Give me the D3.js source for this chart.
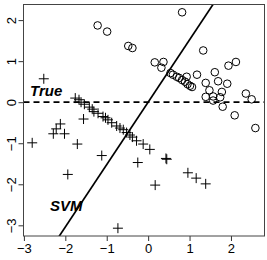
<!DOCTYPE html>
<html>
<head>
<meta charset="utf-8">
<script src="https://cdn.jsdelivr.net/npm/d3@7"></script>
<style>
  body { margin: 0; background: #fff; }
  svg { display: block; }
  text { font-family: "Liberation Sans", Arial, sans-serif; }
  .lbl { font-weight: bold; font-style: italic; font-size: 15px; }
</style>
</head>
<body>
<svg width="267" height="260"></svg>
<script>
// class 1 (circles)
const circleX = [-1.22, -0.99, -0.48, -0.38, 0.82, 1.33, 0.16, 0.37, 0.32,
  0.54, 0.60, 0.69, 0.75, 0.82, 0.89, 0.95, 1.01, 1.06,
  0.93, 1.18, 1.61, 1.39, 1.69, 1.91, 1.94, 2.12, 1.48, 1.78,
  1.39, 1.57, 1.74, 1.57, 1.80, 2.09, 2.36, 2.50, 2.59];
const circleY = [1.87, 1.72, 1.37, 1.32, 2.19, 1.26, 0.97, 0.98, 0.84,
  0.71, 0.67, 0.62, 0.59, 0.54, 0.50, 0.44, 0.40, 0.37,
  0.62, 0.67, 0.73, 0.47, 0.51, 0.45, 0.89, 0.98, 0.29, 0.25,
  0.13, 0.14, 0.12, 0.04, -0.11, -0.32, 0.21, 0.07, -0.63];

// class 2 (crosses)
const crossX = [-1.76, -1.67, -1.62, -1.54, -1.42, -1.35, -1.31, -1.21, -1.09,
  -1.03, -0.97, -0.88, -0.76, -0.68, -0.60, -0.52, -0.44, -0.38, -0.28,
  -0.12, 0.04,
  -2.52, -1.56, -2.12, -2.22, -2.29, -2.02, -2.80, -1.71, -1.12, -1.94,
  -0.25, 0.43, 0.45, 0.17, 0.96, 1.16, 1.39, -0.73];
const crossY = [0.10, 0.06, 0.00, -0.05, -0.12, -0.17, -0.23, -0.27, -0.35,
  -0.38, -0.43, -0.50, -0.58, -0.63, -0.67, -0.74, -0.80, -0.85, -0.94,
  -1.02, -1.15,
  0.57, -0.41, -0.53, -0.65, -0.77, -0.77, -0.99, -1.02, -1.30, -1.76,
  -1.47, -1.37, -1.39, -2.02, -1.72, -1.85, -1.99, -3.07];

const xTicks = [-3, -2, -1, 0, 1, 2];
const yTicks = [-3, -2, -1, 0, 1, 2];

// boundaries
const trueLevel = 0;          // horizontal "True" boundary
const svmSlope = 1.52;
const svmIntercept = 0;

const svg = d3.select("svg");

const x = d3.scaleLinear().domain([-3.01, 2.81]).range([23.5, 264.5]);
const y = d3.scaleLinear().domain([-3.26, 2.38]).range([236, 4.5]);

svg.append("clipPath")
  .attr("id", "clip")
  .append("rect")
  .attr("x", 23.5)
  .attr("y", 4.5)
  .attr("width", 241)
  .attr("height", 231.5);

const fmt = d3.format("d");

const axisX = d3.axisBottom(x)
  .tickValues(xTicks)
  .tickFormat(fmt)
  .tickSizeOuter(0)
  .tickSizeInner(5)
  .tickPadding(3);
const axisY = d3.axisLeft(y)
  .tickValues(yTicks)
  .tickFormat(fmt)
  .tickSizeOuter(0)
  .tickSizeInner(5)
  .tickPadding(3);

const gx = svg.append("g")
  .attr("transform", "translate(0,236)")
  .call(axisX);
gx.select(".domain").remove();
gx.selectAll("text").attr("font-size", 13).attr("font-family", null).attr("fill", "#000");
gx.selectAll("line").attr("stroke", "#333");

const gy = svg.append("g")
  .attr("transform", "translate(23.5,0)")
  .call(axisY);
gy.select(".domain").remove();
gy.selectAll("line").attr("stroke", "#333");
gy.selectAll("text")
  .attr("font-size", 13)
  .attr("font-family", null)
  .attr("fill", "#000")
  .attr("text-anchor", "middle")
  .attr("x", 0)
  .attr("y", 0)
  .attr("dy", "0.35em")
  .attr("transform", "translate(-12,0) rotate(-90)");

const plot = svg.append("g").attr("clip-path", "url(#clip)");

// True boundary
plot.append("line")
  .attr("x1", x(-3.01))
  .attr("x2", x(2.81))
  .attr("y1", y(trueLevel))
  .attr("y2", y(trueLevel))
  .attr("stroke", "#000")
  .attr("stroke-width", 1.7)
  .attr("stroke-dasharray", "6,4");

// SVM boundary
plot.append("line")
  .attr("x1", x(-3.5))
  .attr("y1", y(svmIntercept + svmSlope * -3.5))
  .attr("x2", x(3))
  .attr("y2", y(svmIntercept + svmSlope * 3))
  .attr("stroke", "#000")
  .attr("stroke-width", 1.7);

plot.selectAll("circle.pt")
  .data(d3.range(circleX.length))
  .enter()
  .append("circle")
  .attr("class", "pt")
  .attr("cx", i => x(circleX[i]))
  .attr("cy", i => y(circleY[i]))
  .attr("r", 3.8)
  .attr("fill", "none")
  .attr("stroke", "#000")
  .attr("stroke-width", 1);

plot.selectAll("path.cross")
  .data(d3.range(crossX.length))
  .enter()
  .append("path")
  .attr("class", "cross")
  .attr("d", i => {
    const cx = x(crossX[i]);
    const cy = y(crossY[i]);
    return `M${cx - 5},${cy}H${cx + 5}M${cx},${cy - 5}V${cy + 5}`;
  })
  .attr("stroke", "#000")
  .attr("stroke-width", 1)
  .attr("fill", "none");

svg.append("text").attr("class", "lbl").attr("x", 30).attr("y", 96).text("True");
svg.append("text").attr("class", "lbl").attr("x", 50).attr("y", 211).text("SVM");

// box
svg.append("rect")
  .attr("x", 23.5)
  .attr("y", 4.5)
  .attr("width", 241)
  .attr("height", 231.5)
  .attr("fill", "none")
  .attr("stroke", "#444")
  .attr("stroke-width", 1);
</script>
</body>
</html>
